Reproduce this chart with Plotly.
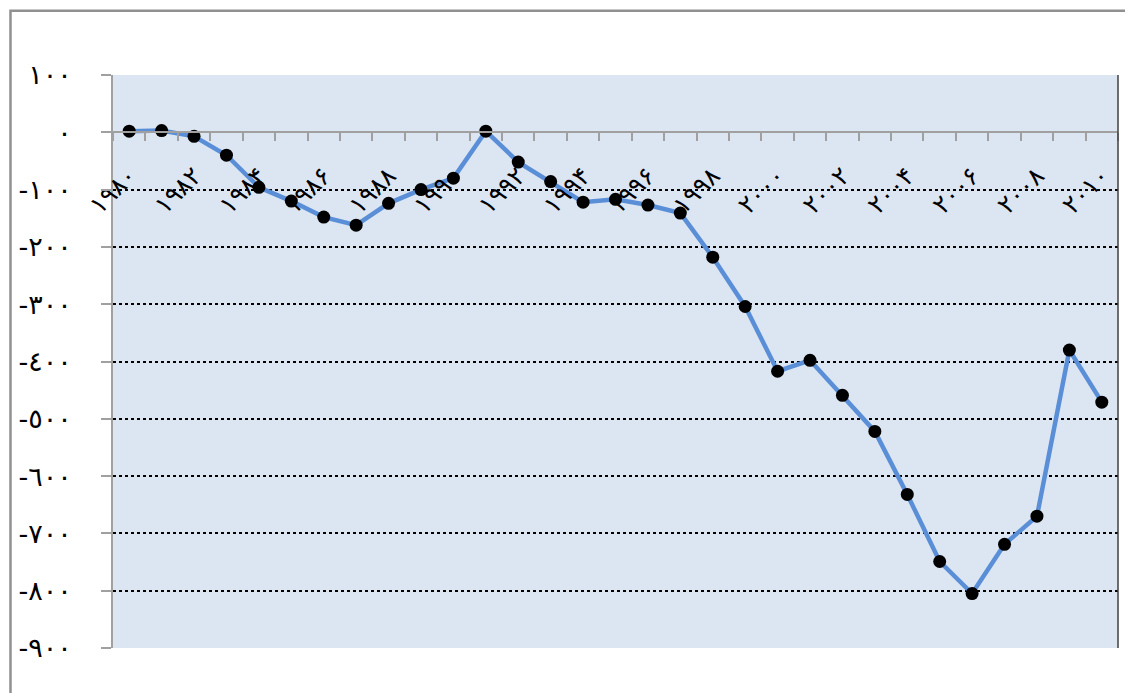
import plotly.graph_objects as go

years = list(range(1980, 2011))
balance = [2, 3, -7, -40, -96, -120, -148, -162, -124, -100, -80, 2,
           -52, -86, -122, -117, -127, -141, -218, -304, -417, -398,
           -459, -522, -632, -749, -805, -719, -670, -380, -471]

ar_digits = str.maketrans("0123456789", "٠١٢٣٤٥٦٧٨٩")
fa_digits = str.maketrans("0123456789", "۰۱۲۳۴۵۶۷۸۹")

y_ticks = list(range(-900, 101, 100))
y_text = [("-" if v < 0 else "") + str(abs(v)).translate(ar_digits) for v in y_ticks]

x_label_years = years[::2]
x_text = [str(y).translate(fa_digits) for y in x_label_years]
boundaries = [y - 0.5 for y in years] + [years[-1] + 0.5]

fig = go.Figure()
fig.add_trace(go.Scatter(
    x=years, y=balance, mode="lines+markers",
    line=dict(color="#5A8FD8", width=4.5),
    marker=dict(color="black", size=13),
    showlegend=False,
))

fig.update_layout(
    width=1133, height=693,
    margin=dict(l=105, r=23, t=67, b=53),
    paper_bgcolor="white",
    plot_bgcolor="#DCE6F2",
    font=dict(family="DejaVu Sans", size=26, color="black"),
    xaxis=dict(
        range=[1979.5, 2010.5],
        anchor="free", position=0.9,
        showgrid=False, zeroline=False,
        showline=True, linecolor="#A0A0A0", linewidth=1.5,
        tickmode="array", tickvals=x_label_years, ticktext=x_text,
        ticks="", tickangle=-45, ticklabelstandoff=18,
        tickfont=dict(size=25),
        minor=dict(tickmode="array", tickvals=boundaries, ticks="outside",
                   ticklen=8, tickcolor="#A0A0A0", tickwidth=1.5, showgrid=False),
    ),
    yaxis=dict(
        range=[-900, 100],
        tickmode="array", tickvals=y_ticks, ticktext=y_text,
        showgrid=True, gridcolor="black", griddash="dot", gridwidth=1.5,
        zeroline=False,
        showline=True, linecolor="#A0A0A0", linewidth=1.5,
        ticks="outside", ticklen=10, tickcolor="#A0A0A0", tickwidth=1.5,
        ticklabelstandoff=24,
        tickfont=dict(size=27),
    ),
    shapes=[
        dict(type="line", xref="paper", yref="paper", x0=1, x1=1, y0=0, y1=1,
             line=dict(color="#404040", width=1.5)),
        dict(type="rect", xref="paper", yref="paper", x0=-0.102, x1=1.03,
             y0=-0.12, y1=1.112, line=dict(color="#909090", width=2.5)),
    ],
)

fig.write_html("out.html")
